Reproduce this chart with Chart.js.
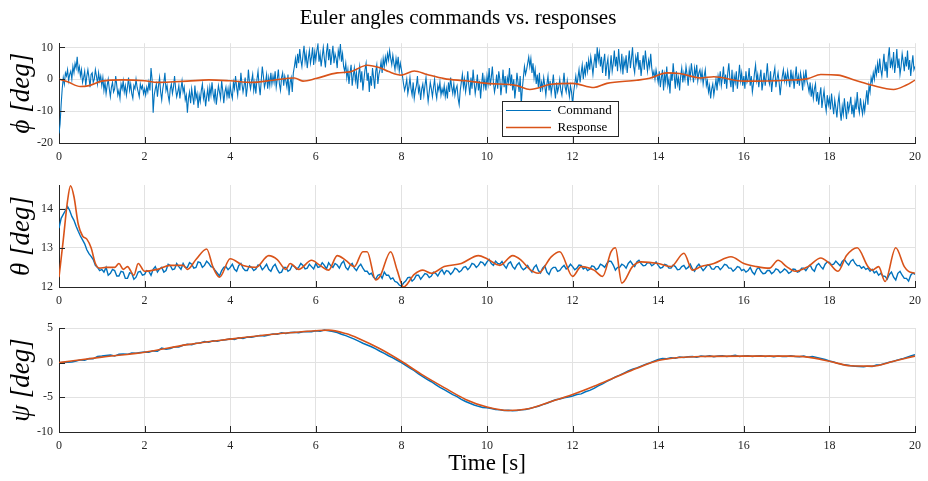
<!DOCTYPE html>
<html><head><meta charset="utf-8">
<script src="https://cdn.jsdelivr.net/npm/chart.js@4.4.1/dist/chart.umd.min.js"></script>
<style>
html,body{margin:0;padding:0;background:#fff;}
#wrap{position:relative;width:928px;height:481px;overflow:hidden;background:#fff;}
canvas{position:absolute;left:0;}
</style></head><body>
<div id="wrap">
<canvas id="c1" width="928" height="170" style="top:0px;width:928px;height:170px"></canvas>
<canvas id="c2" width="928" height="140" style="top:170px;width:928px;height:140px"></canvas>
<canvas id="c3" width="928" height="171" style="top:310px;width:928px;height:171px"></canvas>
</div>
<script>
// ---------------- DATA ----------------
const chartTitle = 'Euler angles commands vs. responses';
const seriesNames = ['Command', 'Response'];
const xTitle = 'Time [s]';
const yTitles = ['ϕ [deg]', 'θ [deg]', 'ψ [deg]'];
const timeMin = 0, timeMax = 20, timeStep = 2;

// Roll (phi) command, sampled every 0.025 s
const phiCmdDt = 0.025;
const phiCmd = [
 -17,-14,-8,-3,0.5,-1.5,2,1,3,-0.5,1.5,2.5,0,4,2,5,3.5,7,2.5,4,
 1,3,-1,0.5,2.5,-2,1,3,0.5,-2.5,1.5,2,-1,0,3,1,-1.5,2,-0.5,1,
 -2,0.5,-3.5,-1,-4.5,-2,0,-3,-5.5,-2.5,-1,-4,-3,1,-2,-5,-3.5,-6,-1.5,-3,
 -0.5,-4,-2,-5,-2.5,0.5,-3.5,-1.5,-4.5,-6,-2,-3,0,-2.5,-4,-5.5,-1.5,-3,-2,-4.5,
 -3,-5,-2.5,-4,-1,-3.5,3.5,0,-10.5,-5,-3,-1.5,-5.5,-2,0.5,-4,-6.5,-3,-1,2,
 -3.5,-2,-5,-7,-3,-1.5,-4.5,-2.5,1,-3,-5.5,-4,-2,-6,-3,-0.5,-4,-2.5,-6.5,-5,
 -10.5,-6,-4,-7.5,-3,-5.5,-8,-2,-6,-4.5,-9,-5,-7,-3.5,-1.5,-6,-4,-8.5,-5.5,-3,
 -7,-2.5,-5,-1,-4.5,-6.5,-3,-8,-5,-2,-4,-6,-0.5,-3.5,-7.5,-4,-2.5,-5.5,-3,-6,
 -2,-4.5,-6,-1,-3,1,-2.5,-5,-0.5,-3.5,2,-1.5,-4,-2,0.5,-5.5,-2.5,3,-1,-3,
 -0.5,1.5,-3.5,-1,-4.5,0,2.5,-2,-5,-0.5,4,1,-2.5,-1,1.5,-3,0.5,-2,2,-1.5,
 1,-1,2.5,-2.5,0,3,-1.5,-3.5,0.5,2,-2,1,-0.5,-2.5,1.5,-5,-1,0.5,-4,2,
 4,6.5,3.5,8,5,9.5,6,4,7.5,10.5,5.5,8,3.5,6.5,9,5,7,10,4.5,8.5,
 6,9,11,5.5,8,4,7,10,6.5,3.7,8.5,11,6,9.5,4.5,7.5,10.5,5,8,6.5,
 3.5,9,7,11,5.5,8,4,2.5,5,0.5,3,-1.5,2,4.5,-2,1,3.5,-0.5,2,-3,
 1.5,4,-1,2.5,-3.5,0,3,5,-0.5,2,-4,1,-2,3.5,0.5,-3,2.5,4.5,-1.5,1.5,
 3,5.5,2,6.5,4,7,5,8,6,9,6.5,4.5,7.5,5,3,6.5,4,7,2.5,5,
 3,1,-1.5,-3.5,-2,0,-4.5,-2.5,0.5,-3,-5,-1,-6,-3.5,-2,1,-4,-2.5,-6.5,-3,
 -1.5,-5,-2,0.5,-3.5,-7,-4,-1,-3,-5.5,-2.5,0,-4,-6,-2,-3.5,-1,-5,-3,-4.5,
 -2,-5.5,-3,-6,-1,-4,0.5,-2.5,-4.5,-1.5,-5,-3,-2,-6,-8,-3.5,-1,1.5,-2.5,0,
 -4,-1.5,2.5,-2,-5,0.5,-3,3,-1,-4.5,-2,1.5,-3.5,-0.5,-6,-1.5,2,-2.5,0,-3.5,
 1,-1.5,3.5,-2,0.5,4,-1,-4,-2,1.5,-3,2.5,0,-5,-1.5,3,-2.5,1,-4.5,0.5,
 -1,3.5,-2,1.5,-3.5,0,-6,-2.5,2,-1,-4,1,-8,-3,0.5,4,1.5,3,5,7,
 4,6.5,2,5,0.5,3,-1.5,1.5,-2.5,2,-4,-1,-3,0.5,-2,-5,-1.5,1,-3.5,-0.5,
 -4.5,-2,1.5,-3,-6,-1,-4,-2.5,0,-3.5,-5,-1.5,2,-2.5,-4,-0.5,-3,-5.5,-2,-4,
 -8,-4,-1.5,1,-2,0.5,3,-1,2,4.5,0,3.5,1.5,5.5,2.5,6,3,7,4.5,1.5,
 5,8,3.5,10,6,8.5,4,7,2,5.5,8,1,4.5,6.5,0,3.5,7.5,2.5,5,9,
 4,7,2.5,9.5,5,3,8,1.5,6,4,7.5,2,5.5,9,3.5,6.5,10,4,2,7,
 5,8.5,3,6,1,4.5,7.5,3,9,5.5,2.5,6,4,8,3.5,1,2.5,0,3,1,
 -1,2.5,-2.5,0.5,3,-3.5,1.5,-1,4,-2,0,-4.5,2,-0.5,5,1,-3,2.5,-1.5,0.5,
 -3.5,1,3.5,-1,2,0,4,1.5,-2,3,0.5,5,2,-1,3.5,1,4.5,-0.5,2,3,
 0,2.5,-1.5,1,3,-2,-0.5,-4,-2,-6,-3,-1.5,-5,-2.5,0,-3.5,1,-1,2.5,-2,
 0.5,4,-1.5,1.5,-3,2,5,0,-2.5,3,-4,1,-1,2.5,-3,0.5,4.5,-0.5,2,-2,
 1,-3,2.5,-1,0,3.5,-2,1,-4,-1.5,2,4.5,-0.5,1.5,-2.5,0.5,3,-3.5,-1,2,
 -2,1,5,0,-1.5,2.5,-4,-0.5,1.5,3.5,-2.5,0,2,-1,-5,-1.5,1,3,-0.5,1.5,
 -1,2.5,0,-2.5,3,-0.5,1.5,-3,0.5,4,-1.5,1,-2,2,0,-3.5,1.5,-1,3,-0.5,
 -2,-4,-1,-5.5,-2.5,-6,-3,-1.5,-7,-4,-8,-5,-2.5,-9,-6,-3.5,-7.5,-10,-5,-8,
 -6,-9.5,-4.5,-8,-11,-6.5,-9,-12,-7.5,-5,-10,-13,-8.5,-11,-6,-9.5,-12.5,-7,-10,-8,
 -5.5,-11,-8,-12,-7,-9.5,-4,-8.5,-10.5,-6,-9,-11,-7.5,-10,-6.5,-3.5,-8,-2,-4,0.5,
 -1,2,0,3.5,1.5,5,2,6.5,3,1,4.5,8,2.5,5.5,0.5,7,10,3.5,6,4,
 8.5,2,5,9.5,3.5,6.5,1.5,4,8,5.5,2.5,7,4,9,3,6,1,4.5,7.5,3,
 4
];
// Roll response [t, value]
const phiResp = [
 [0,0],[0.2,-0.8],[0.5,-2.3],[0.7,-2],[1.0,-0.6],[1.5,-0.2],[2.0,-0.5],[2.3,-1.0],[2.7,-0.8],
 [3.0,-0.6],[3.5,-0.2],[4.0,-0.5],[4.5,-1.0],[5.0,-0.3],[5.5,0.4],[5.7,-0.6],[6.0,0.2],[6.5,2.0],
 [6.8,2.3],[7.2,4.4],[7.5,3.6],[7.7,2.4],[8.0,1.3],[8.3,2.6],[8.6,1.5],[9.0,0.2],[9.5,-0.5],
 [10.0,-1.3],[10.7,-2.0],[11.0,-3.2],[11.5,-1.6],[12.0,-1.3],[12.5,-2.6],[12.8,-1.3],[13.5,-0.3],
 [13.8,0.3],[14.2,2.0],[14.5,1.8],[15.0,0.4],[15.3,0.8],[16.0,-0.6],[17.0,-0.3],[17.5,0.2],
 [17.8,1.5],[18.2,1.3],[18.6,-0.3],[19.0,-1.9],[19.5,-3.2],[19.8,-1.8],[20,-0.3]
];

// Pitch (theta) command, sampled every 0.05 s
const thetaCmdDt = 0.05;
const thetaCmd = [
 13.5,13.75,13.85,13.95,14.05,13.95,13.8,13.7,13.55,13.42,13.3,13.2,13.1,12.95,12.85,12.78,12.7,12.55,12.5,12.42,
 12.45,12.38,12.5,12.3,12.35,12.45,12.42,12.28,12.28,12.4,12.38,12.22,12.22,12.36,12.35,12.2,12.25,12.38,12.4,12.3,
 12.32,12.42,12.4,12.3,12.45,12.52,12.38,12.46,12.5,12.38,12.42,12.58,12.55,12.44,12.46,12.6,12.52,12.45,12.6,12.5,
 12.5,12.62,12.58,12.48,12.5,12.64,12.62,12.5,12.55,12.66,12.6,12.52,12.5,12.42,12.35,12.28,12.42,12.5,12.52,12.44,
 12.5,12.58,12.45,12.4,12.55,12.6,12.48,12.42,12.42,12.54,12.5,12.42,12.46,12.56,12.55,12.44,12.5,12.58,12.45,12.4,
 12.52,12.58,12.45,12.36,12.38,12.5,12.5,12.4,12.44,12.56,12.52,12.45,12.5,12.6,12.55,12.46,12.48,12.58,12.52,12.46,
 12.6,12.5,12.52,12.62,12.55,12.46,12.62,12.54,12.5,12.6,12.56,12.48,12.6,12.66,12.5,12.44,12.55,12.6,12.48,12.42,
 12.52,12.58,12.48,12.4,12.4,12.32,12.35,12.25,12.2,12.3,12.32,12.22,12.38,12.3,12.3,12.2,12.23,12.14,12.12,12.05,
 12.02,12.1,12.15,12.24,12.25,12.15,12.2,12.3,12.3,12.2,12.27,12.34,12.32,12.24,12.28,12.38,12.35,12.28,12.38,12.44,
 12.33,12.42,12.4,12.32,12.38,12.48,12.45,12.38,12.42,12.5,12.52,12.44,12.5,12.6,12.58,12.5,12.55,12.64,12.62,12.55,
 12.64,12.7,12.6,12.55,12.66,12.6,12.58,12.65,12.55,12.48,12.6,12.64,12.52,12.46,12.56,12.62,12.5,12.44,12.48,12.55,
 12.45,12.38,12.5,12.56,12.42,12.36,12.48,12.54,12.38,12.32,12.45,12.5,12.5,12.4,12.42,12.5,12.55,12.46,12.5,12.58,
 12.52,12.44,12.48,12.56,12.55,12.46,12.5,12.42,12.45,12.54,12.52,12.44,12.48,12.58,12.55,12.5,12.6,12.66,12.65,12.56,
 12.43,12.5,12.5,12.58,12.55,12.48,12.6,12.66,12.58,12.52,12.64,12.68,12.6,12.54,12.55,12.62,12.62,12.54,12.58,12.64,
 12.55,12.48,12.5,12.58,12.56,12.48,12.48,12.56,12.52,12.44,12.45,12.52,12.55,12.46,12.5,12.58,12.46,12.4,12.52,12.58,
 12.5,12.42,12.48,12.56,12.55,12.46,12.45,12.52,12.52,12.44,12.5,12.58,12.56,12.48,12.48,12.4,12.45,12.52,12.5,12.42,
 12.45,12.38,12.42,12.5,12.38,12.32,12.45,12.5,12.4,12.34,12.35,12.42,12.42,12.34,12.38,12.46,12.44,12.36,12.4,12.46,
 12.42,12.35,12.38,12.46,12.45,12.38,12.4,12.48,12.48,12.42,12.5,12.56,12.45,12.4,12.55,12.6,12.52,12.46,12.58,12.64,
 12.63,12.56,12.58,12.66,12.6,12.54,12.65,12.7,12.62,12.56,12.66,12.7,12.6,12.54,12.55,12.48,12.52,12.45,12.48,12.4,
 12.45,12.36,12.4,12.3,12.35,12.28,12.27,12.2,12.32,12.38,12.25,12.18,12.35,12.4,12.3,12.22,12.22,12.15,12.3,12.36,
 12.32
];
// Pitch response [t, value]
const thetaResp = [
 [0,12.25],[0.1,13.2],[0.2,14.2],[0.27,14.58],[0.35,14.3],[0.45,13.6],[0.55,13.3],[0.65,13.22],
 [0.75,13.0],[0.85,12.6],[0.95,12.48],[1.1,12.5],[1.3,12.5],[1.4,12.6],[1.5,12.45],[1.6,12.52],
 [1.75,12.3],[1.85,12.6],[2.0,12.4],[2.3,12.45],[2.6,12.55],[2.9,12.55],[3.0,12.45],[3.2,12.7],
 [3.45,12.97],[3.6,12.5],[3.75,12.25],[4.0,12.72],[4.3,12.55],[4.6,12.5],[4.9,12.8],[5.1,12.7],
 [5.3,12.45],[5.4,12.6],[5.6,12.45],[5.9,12.68],[6.1,12.55],[6.3,12.43],[6.5,12.8],[6.7,12.68],
 [6.9,12.52],[7.1,12.9],[7.2,12.9],[7.4,12.18],[7.5,12.27],[7.75,12.9],[7.9,12.43],[8.05,12.0],
 [8.3,12.32],[8.5,12.43],[8.7,12.35],[9.0,12.52],[9.4,12.6],[9.8,12.8],[10.0,12.72],[10.3,12.55],
 [10.6,12.8],[10.8,12.68],[11.0,12.45],[11.2,12.35],[11.5,12.77],[11.7,12.9],[12.0,12.27],
 [12.2,12.52],[12.5,12.43],[12.7,12.27],[12.9,12.9],[13.0,13.0],[13.15,12.1],[13.4,12.52],
 [13.6,12.64],[14.0,12.6],[14.3,12.52],[14.6,12.86],[14.8,12.43],[15.0,12.52],[15.3,12.6],
 [15.7,12.77],[16.0,12.6],[16.3,12.52],[16.6,12.48],[16.8,12.68],[17.0,12.52],[17.2,12.4],
 [17.5,12.52],[17.8,12.74],[18.0,12.6],[18.2,12.4],[18.4,12.8],[18.65,13.0],[18.9,12.52],
 [19.0,12.43],[19.15,12.52],[19.3,12.14],[19.55,13.0],[19.75,12.52],[19.85,12.4],[20,12.35]
];

// Yaw (psi) command, sampled every 0.1 s
const psiCmdDt = 0.1;
const psiCmd = [
 0.0,0.02,0.05,0.1,0.25,0.4,0.35,0.6,0.55,0.9,
 0.95,1.05,1.1,0.95,1.2,1.25,1.2,1.4,1.35,1.45,
 1.55,1.5,1.7,1.65,2.1,1.95,2.05,2.3,2.25,2.5,
 2.65,2.6,2.8,2.85,3.05,2.95,3.15,3.1,3.25,3.3,
 3.45,3.35,3.6,3.5,3.7,3.65,3.8,3.9,3.85,4.0,
 4.15,4.1,4.3,4.2,4.35,4.4,4.3,4.45,4.5,4.45,
 4.6,4.55,4.7,4.6,4.5,4.35,4.1,3.9,3.65,3.4,
 3.1,2.8,2.55,2.3,2.0,1.65,1.35,1.0,0.7,0.35,
 0.0,-0.4,-0.8,-1.15,-1.6,-2.0,-2.4,-2.75,-3.15,-3.55,
 -3.9,-4.25,-4.6,-4.9,-5.3,-5.6,-5.85,-6.1,-6.3,-6.45,
 -6.5,-6.6,-6.75,-6.8,-6.9,-6.85,-6.95,-6.9,-6.8,-6.75,
 -6.6,-6.45,-6.3,-6.05,-5.85,-5.6,-5.35,-5.25,-5.05,-4.95,
 -4.8,-4.6,-4.5,-4.2,-4.0,-3.7,-3.35,-3.05,-2.7,-2.4,
 -2.05,-1.8,-1.5,-1.2,-0.95,-0.75,-0.5,-0.25,-0.05,0.2,
 0.45,0.6,0.55,0.7,0.65,0.8,0.75,0.85,0.9,0.8,
 0.95,0.9,1.0,0.85,0.95,1.0,0.9,0.95,1.05,0.9,
 0.95,1.0,0.9,0.95,1.0,0.9,0.95,0.85,0.95,0.9,
 0.9,1.0,0.9,0.85,0.95,0.8,0.9,0.75,0.6,0.45,
 0.25,0.1,-0.1,-0.25,-0.35,-0.45,-0.5,-0.55,-0.6,-0.5,
 -0.55,-0.35,-0.3,-0.1,0.05,0.2,0.4,0.55,0.75,0.95,
 1.15
];
// Yaw response [t, value]
const psiResp = [
 [0,0],[1,0.8],[2,1.5],[3,2.6],[4,3.4],[5,4.1],[6,4.6],[6.3,4.7],[6.7,4.2],[7,3.5],[7.5,2.0],
 [8,0.2],[8.5,-1.8],[9,-3.6],[9.5,-5.3],[10,-6.4],[10.5,-6.9],[11,-6.6],[11.5,-5.6],[12,-4.6],
 [12.5,-3.4],[13,-2.1],[13.5,-0.8],[14,0.3],[14.5,0.75],[15,0.9],[16,0.95],[17,0.95],[17.5,0.8],
 [18,0.2],[18.5,-0.45],[19,-0.5],[19.5,0.2],[20,0.95]
];

// y-axis ranges / tick steps per subplot
const yMins = [-20, 12, -10];
const yMaxs = [11.3, 14.6, 5];
const ySteps = [10, 1, 5];

// ---------------- STYLE / RENDER ----------------
const SERIF = "'Liberation Serif', 'Times New Roman', 'DejaVu Serif', serif";
const BLUE = '#0072BD', ORANGE = '#D95319';
const AXIS = '#262626', GRID = '#e2e2e2';

function sampled(arr, dt) { return arr.map((v, i) => ({ x: Math.round(i * dt * 1000) / 1000, y: v })); }
function pairs(arr) { return arr.map(p => ({ x: p[0], y: p[1] })); }

const inTicks = {
  id: 'inTicks',
  afterDatasetsDraw(chart) {
    const { ctx, chartArea: a, scales: { x, y } } = chart;
    ctx.save();
    ctx.strokeStyle = AXIS; ctx.lineWidth = 1;
    ctx.beginPath();
    x.ticks.forEach(t => { const px = Math.round(x.getPixelForValue(t.value)) + 0.5; ctx.moveTo(px, a.bottom); ctx.lineTo(px, a.bottom - 6); });
    y.ticks.forEach(t => { const py = Math.round(y.getPixelForValue(t.value)) + 0.5; ctx.moveTo(a.left, py); ctx.lineTo(a.left + 6, py); });
    ctx.stroke();
    ctx.restore();
  }
};

const legendBox = {
  id: 'legendBox',
  afterLayout(chart) {
    const lg = chart.legend;
    if (!lg) return;
    lg.left = 502; lg.top = 100;
    lg.right = lg.left + lg.width; lg.bottom = lg.top + lg.height;
  },
  afterDatasetsDraw(chart) {
    const lg = chart.legend; const ctx = chart.ctx;
    ctx.save();
    ctx.fillStyle = '#fff';
    ctx.fillRect(502.5, 101.5, 116, 35);
    ctx.strokeStyle = AXIS; ctx.lineWidth = 1;
    ctx.strokeRect(502.5, 101.5, 116, 35);
    ctx.restore();
    lg.draw();
  }
};

function makeChart(id, idx, cmdPts, respPts, opts) {
  const ctx = document.getElementById(id);
  const cfg = {
    type: 'line',
    data: {
      datasets: [
        { label: seriesNames[0], data: cmdPts, borderColor: BLUE, backgroundColor: BLUE,
          borderWidth: opts.cmdWidth, pointRadius: 0, tension: 0, order: 1 },
        { label: seriesNames[1], data: respPts, borderColor: ORANGE, backgroundColor: ORANGE,
          borderWidth: 1.6, pointRadius: 0, cubicInterpolationMode: 'monotone', order: 0 }
      ]
    },
    options: {
      responsive: false, animation: false, devicePixelRatio: 1, events: [],
      layout: { padding: { left: 0, right: 12, top: opts.padTop, bottom: 0 } },
      plugins: {
        tooltip: { enabled: false },
        title: opts.title ? {
          display: true, text: chartTitle, color: '#000',
          font: { family: SERIF, size: 21, weight: 'normal' },
          padding: { top: 6, bottom: 12 }
        } : { display: false },
        legend: opts.legend ? {
          display: true, position: 'chartArea', align: 'start',
          labels: {
            usePointStyle: true, pointStyle: 'line', pointStyleWidth: 45, padding: 4,
            color: '#000', font: { family: SERIF, size: 13 },
            sort: (a, b) => a.datasetIndex - b.datasetIndex
          }
        } : { display: false }
      },
      scales: {
        x: {
          type: 'linear', min: timeMin, max: timeMax,
          ticks: { stepSize: timeStep, color: AXIS, padding: 7, font: { family: SERIF, size: 12 }, maxRotation: 0 },
          grid: { color: GRID, drawTicks: false, lineWidth: 1 },
          border: { display: true, color: AXIS, width: 1 },
          title: opts.xTitle ? { display: true, text: xTitle, color: '#000', font: { family: SERIF, size: 23 }, padding: { top: 0, bottom: 3 } } : { display: false },
          afterFit(s) { s.height = opts.xHeight; }
        },
        y: {
          type: 'linear', min: yMins[idx], max: yMaxs[idx],
          ticks: { stepSize: ySteps[idx], includeBounds: false, color: AXIS, padding: 6, font: { family: SERIF, size: 12 } },
          grid: { color: GRID, drawTicks: false, lineWidth: 1 },
          border: { display: true, color: AXIS, width: 1 },
          title: { display: true, text: yTitles[idx], color: '#000', font: { family: SERIF, size: 27, style: 'italic' }, padding: { top: 6, bottom: 0 } },
          afterFit(s) { s.width = 59; }
        }
      }
    },
    plugins: opts.legend ? [inTicks, legendBox] : [inTicks]
  };
  return new Chart(ctx, cfg);
}

makeChart('c1', 0, sampled(phiCmd, phiCmdDt), pairs(phiResp), { cmdWidth: 1.1, padTop: 0, title: true, legend: true, xHeight: 27 });
makeChart('c2', 1, sampled(thetaCmd, thetaCmdDt), pairs(thetaResp), { cmdWidth: 1.4, padTop: 15, title: false, legend: false, xHeight: 23 });
makeChart('c3', 2, sampled(psiCmd, psiCmdDt), pairs(psiResp), { cmdWidth: 1.5, padTop: 18, title: false, legend: false, xHeight: 49, xTitle: true });
</script>
</body></html>
